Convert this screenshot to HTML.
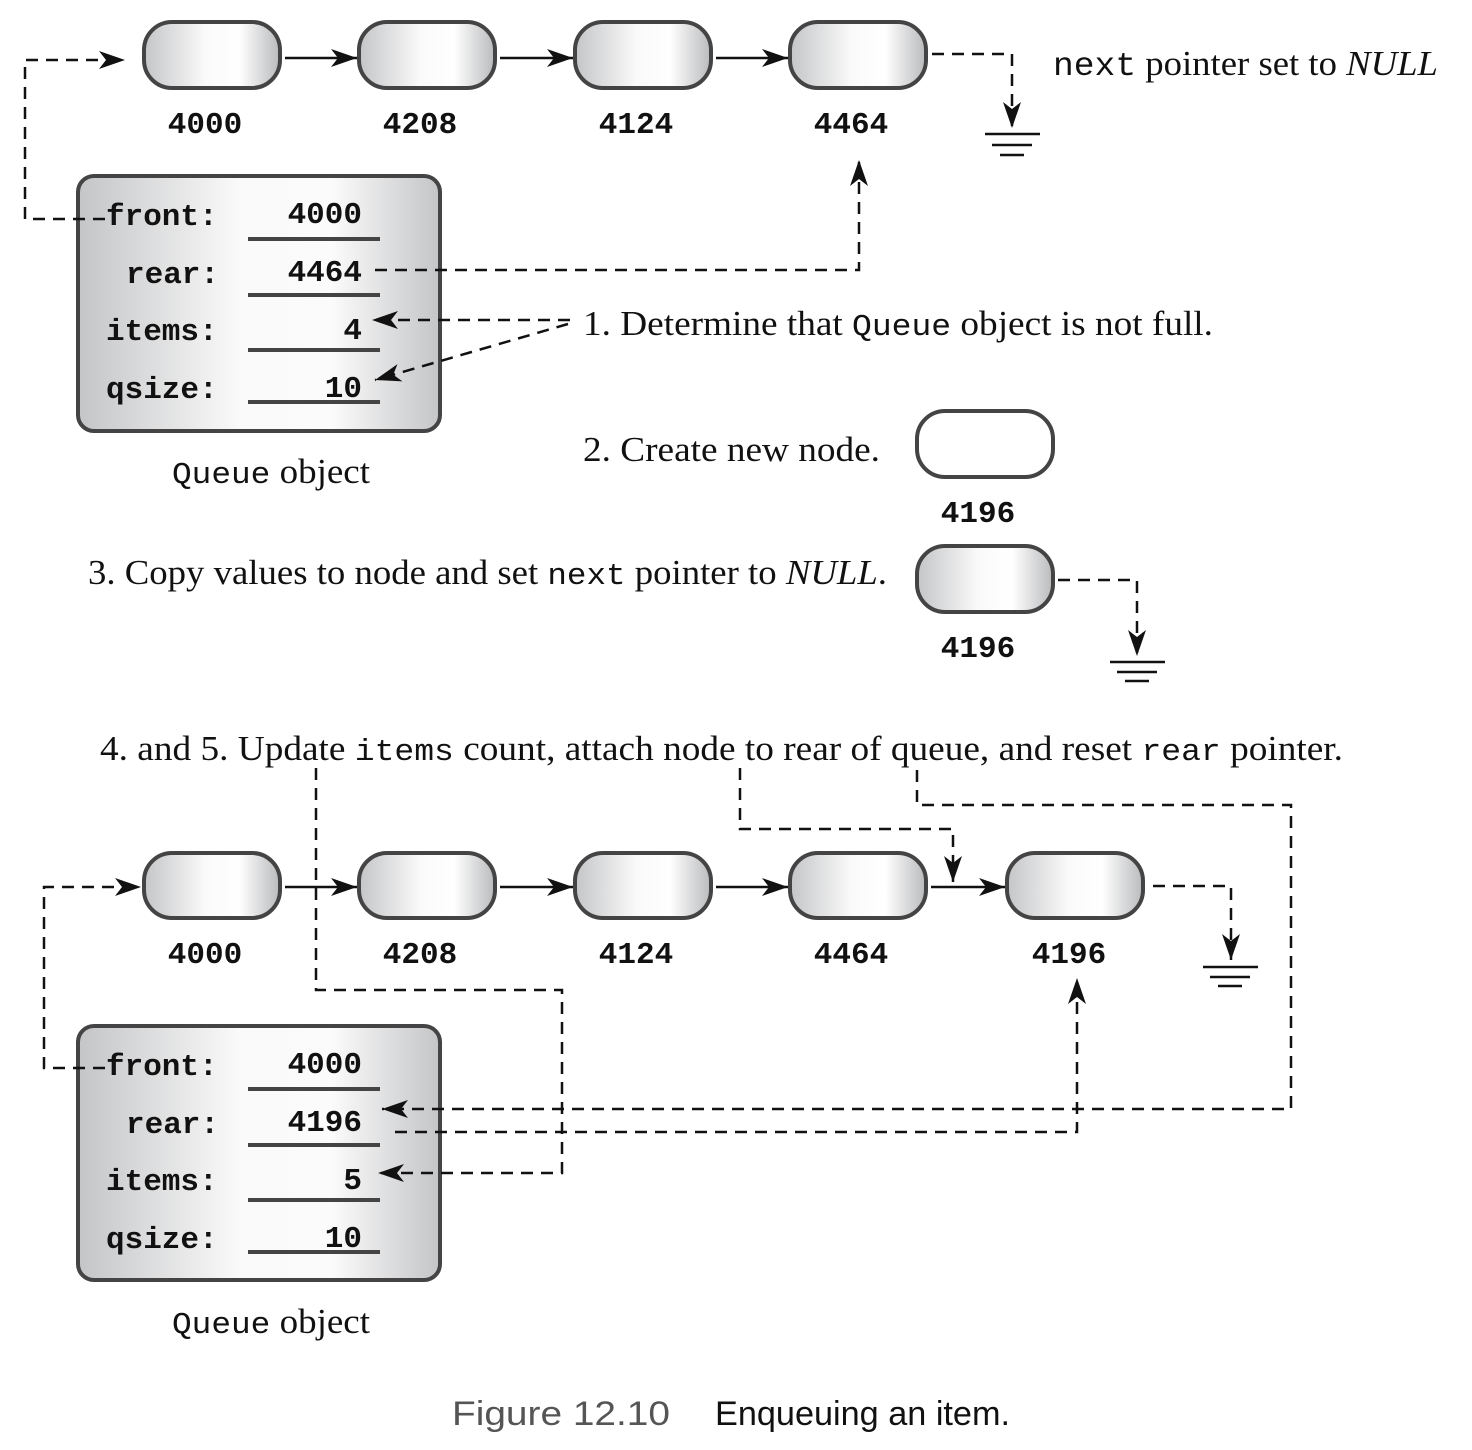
<!DOCTYPE html>
<html><head><meta charset="utf-8"><style>
html,body{margin:0;padding:0;background:#fff}
svg{display:block}
.m{font-family:"Liberation Mono",monospace;font-size:31px;fill:#111;font-weight:bold}
.s{font-family:"Liberation Serif",serif;font-size:35px;fill:#111}
.s .m{font-weight:normal}
.d{fill:none;stroke:#111;stroke-width:2.5;stroke-dasharray:12 8}
.l{fill:none;stroke:#111;stroke-width:2.5}
.g{stroke:#111;stroke-width:2.5}
</style></head><body>
<svg width="1472" height="1450" viewBox="0 0 1472 1450" xmlns="http://www.w3.org/2000/svg">
<defs>
<linearGradient id="ng" x1="0" x2="1" y1="0" y2="0">
<stop offset="0" stop-color="#c4c5c7"/><stop offset="0.45" stop-color="#fafafa"/><stop offset="0.7" stop-color="#ffffff"/><stop offset="1" stop-color="#b9babc"/></linearGradient>
<linearGradient id="bg" x1="0" x2="1" y1="0" y2="0">
<stop offset="0" stop-color="#c4c5c7"/><stop offset="0.45" stop-color="#fafafa"/><stop offset="0.7" stop-color="#fbfbfb"/><stop offset="1" stop-color="#c4c5c7"/></linearGradient>
<marker id="a" viewBox="0 0 26 18" refX="26" refY="9" markerWidth="26" markerHeight="18" markerUnits="userSpaceOnUse" orient="auto"><path d="M0,0 L26,9 L0,18 L7,9 Z" fill="#111"/></marker>
</defs>

<g stroke="#444" stroke-width="4" fill="url(#ng)">
<rect x="144" y="22" width="136" height="66" rx="28"/>
<rect x="359" y="22" width="136" height="66" rx="28"/>
<rect x="575" y="22" width="136" height="66" rx="28"/>
<rect x="790" y="22" width="136" height="66" rx="28"/>
</g>
<line class="l" x1="285" y1="58" x2="357" y2="58" marker-end="url(#a)"/>
<line class="l" x1="500" y1="58" x2="573" y2="58" marker-end="url(#a)"/>
<line class="l" x1="716" y1="58" x2="788" y2="58" marker-end="url(#a)"/>
<g class="m" text-anchor="middle">
<text x="205" y="133">4000</text><text x="420" y="133">4208</text><text x="636" y="133">4124</text><text x="851" y="133">4464</text>
</g>
<path class="d" d="M932,54 H1012 V128" marker-end="url(#a)"/>
<line class="g" x1="985" y1="134" x2="1040" y2="134"/><line class="g" x1="992" y1="145" x2="1032" y2="145"/><line class="g" x1="1000" y1="155" x2="1024" y2="155"/>
<text x="1053" y="75" class="s" textLength="385" lengthAdjust="spacingAndGlyphs"><tspan class="m" style="font-size:33px">next</tspan> pointer set to <tspan font-style="italic">NULL</tspan></text>

<rect x="78" y="176" width="362" height="255" rx="16" fill="url(#bg)" stroke="#444" stroke-width="4"/>
<g class="m">
<text x="106" y="225">front:</text><text x="126" y="283">rear:</text><text x="106" y="340">items:</text><text x="106" y="398">qsize:</text>
<text x="362" y="223" text-anchor="end">4000</text><text x="362" y="281" text-anchor="end">4464</text><text x="362" y="339" text-anchor="end">4</text><text x="362" y="397" text-anchor="end">10</text>
</g>
<g stroke="#444" stroke-width="4"><line x1="248" y1="239" x2="380" y2="239"/><line x1="248" y1="295" x2="380" y2="295"/><line x1="248" y1="350" x2="380" y2="350"/><line x1="248" y1="402" x2="380" y2="402"/></g>
<path class="d" d="M105,219 H25 V60 H125" marker-end="url(#a)"/>
<path class="d" d="M375,270 H859 V160" marker-end="url(#a)"/>
<path class="d" d="M570,320 H372" marker-end="url(#a)"/>
<path class="d" d="M568,324 L375,380" marker-end="url(#a)"/>
<text x="172" y="483" class="s" textLength="198" lengthAdjust="spacingAndGlyphs"><tspan class="m" style="font-size:31px">Queue</tspan> object</text>

<text x="583" y="335" class="s" textLength="630" lengthAdjust="spacingAndGlyphs">1. Determine that <tspan class="m" style="font-size:31px">Queue</tspan> object is not full.</text>
<text x="583" y="461" class="s" textLength="297" lengthAdjust="spacingAndGlyphs">2. Create new node.</text>
<rect x="917" y="411" width="136" height="66" rx="28" fill="#fff" stroke="#444" stroke-width="4"/>
<text x="978" y="522" class="m" text-anchor="middle">4196</text>
<text x="88" y="584" class="s" textLength="799" lengthAdjust="spacingAndGlyphs">3. Copy values to node and set <tspan class="m" style="font-size:31px">next</tspan> pointer to <tspan font-style="italic">NULL</tspan>.</text>
<rect x="917" y="546" width="136" height="66" rx="28" fill="url(#ng)" stroke="#444" stroke-width="4"/>
<text x="978" y="657" class="m" text-anchor="middle">4196</text>
<path class="d" d="M1058,580 H1137 V656" marker-end="url(#a)"/>
<line class="g" x1="1110" y1="662" x2="1165" y2="662"/><line class="g" x1="1117" y1="672" x2="1157" y2="672"/><line class="g" x1="1125" y1="681" x2="1149" y2="681"/>

<text x="100" y="760" class="s" textLength="1243" lengthAdjust="spacingAndGlyphs">4. and 5. Update <tspan class="m" style="font-size:31px">items</tspan> count, attach node to rear of queue, and reset <tspan class="m" style="font-size:31px">rear</tspan> pointer.</text>

<g stroke="#444" stroke-width="4" fill="url(#ng)">
<rect x="144" y="853" width="136" height="65" rx="28"/>
<rect x="359" y="853" width="136" height="65" rx="28"/>
<rect x="575" y="853" width="136" height="65" rx="28"/>
<rect x="790" y="853" width="136" height="65" rx="28"/>
<rect x="1007" y="853" width="136" height="65" rx="28"/>
</g>
<line class="l" x1="285" y1="887" x2="357" y2="887" marker-end="url(#a)"/>
<line class="l" x1="500" y1="887" x2="573" y2="887" marker-end="url(#a)"/>
<line class="l" x1="716" y1="887" x2="788" y2="887" marker-end="url(#a)"/>
<line class="l" x1="931" y1="887" x2="1005" y2="887" marker-end="url(#a)"/>
<g class="m" text-anchor="middle">
<text x="205" y="963">4000</text><text x="420" y="963">4208</text><text x="636" y="963">4124</text><text x="851" y="963">4464</text><text x="1069" y="963">4196</text>
</g>
<path class="d" d="M1153,886 H1231 V960" marker-end="url(#a)"/>
<line class="g" x1="1203" y1="967" x2="1258" y2="967"/><line class="g" x1="1210" y1="977" x2="1250" y2="977"/><line class="g" x1="1218" y1="986" x2="1242" y2="986"/>

<rect x="78" y="1026" width="362" height="254" rx="16" fill="url(#bg)" stroke="#444" stroke-width="4"/>
<g class="m">
<text x="106" y="1075">front:</text><text x="126" y="1133">rear:</text><text x="106" y="1190">items:</text><text x="106" y="1248">qsize:</text>
<text x="362" y="1073" text-anchor="end">4000</text><text x="362" y="1131" text-anchor="end">4196</text><text x="362" y="1189" text-anchor="end">5</text><text x="362" y="1247" text-anchor="end">10</text>
</g>
<g stroke="#444" stroke-width="4"><line x1="248" y1="1089" x2="380" y2="1089"/><line x1="248" y1="1145" x2="380" y2="1145"/><line x1="248" y1="1200" x2="380" y2="1200"/><line x1="248" y1="1252" x2="380" y2="1252"/></g>
<path class="d" d="M105,1068 H44 V887 H141" marker-end="url(#a)"/>
<path class="d" d="M316,768 V990 H562 V1173 H378" marker-end="url(#a)"/>
<path class="d" d="M740,768 V829 H953 V882" marker-end="url(#a)"/>
<path class="d" d="M917,770 V805 H1291 V1109 H382" marker-end="url(#a)"/>
<path class="d" d="M395,1132 H1077 V978" marker-end="url(#a)"/>
<text x="172" y="1333" class="s" textLength="198" lengthAdjust="spacingAndGlyphs"><tspan class="m" style="font-size:31px">Queue</tspan> object</text>

<text x="452" y="1425" textLength="218" lengthAdjust="spacingAndGlyphs" style="font-family:'Liberation Sans',sans-serif;font-size:34px;fill:#555">Figure 12.10</text>
<text x="715" y="1425" textLength="295" lengthAdjust="spacingAndGlyphs" style="font-family:'Liberation Sans',sans-serif;font-size:34px;fill:#111">Enqueuing an item.</text>
</svg>
</body></html>
